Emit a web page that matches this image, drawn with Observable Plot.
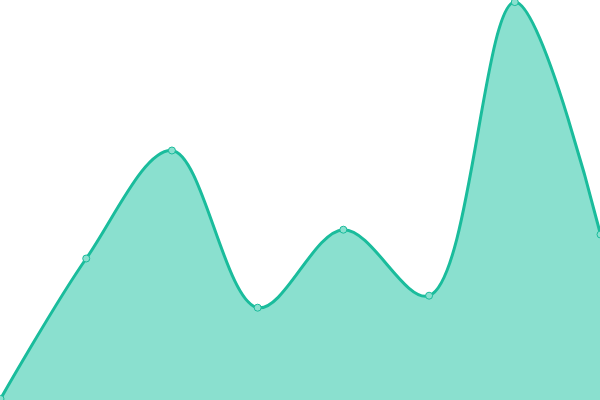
<!DOCTYPE html>
<html>
<head>
<meta charset="utf-8">
<script src="https://cdn.jsdelivr.net/npm/d3@7"></script>
<script src="https://cdn.jsdelivr.net/npm/@observablehq/plot@0.6"></script>
<style>
  html, body { margin: 0; padding: 0; background: #fff; overflow: hidden; }
  svg { display: block; }
</style>
</head>
<body>
<div id="chart"></div>
<script>
const indices = [0, 1, 2, 3, 4, 5, 6, 7];
const values = [0.4, 35.5, 62.5, 23.2, 42.7, 26.2, 99.6, 41.5];

const data = indices.map((i, k) => ({ i, v: values[k] }));

const lineColor = "#1abc9c";
const fillColor = "#8ae0cf";

const chart = Plot.plot({
  width: 600,
  height: 400,
  margin: 0,
  x: { domain: [0, 7], axis: null },
  y: { domain: [0, 100], axis: null },
  marks: [
    Plot.areaY(data, { x: "i", y: "v", curve: "catmull-rom", fill: fillColor, fillOpacity: 1 }),
    Plot.lineY(data, { x: "i", y: "v", curve: "catmull-rom", stroke: lineColor, strokeWidth: 3 }),
    Plot.dot(data, { x: "i", y: "v", r: 3.5, fill: fillColor, stroke: lineColor, strokeWidth: 1 })
  ]
});
chart.style.overflow = "visible";
document.getElementById("chart").appendChild(chart);
</script>
</body>
</html>
